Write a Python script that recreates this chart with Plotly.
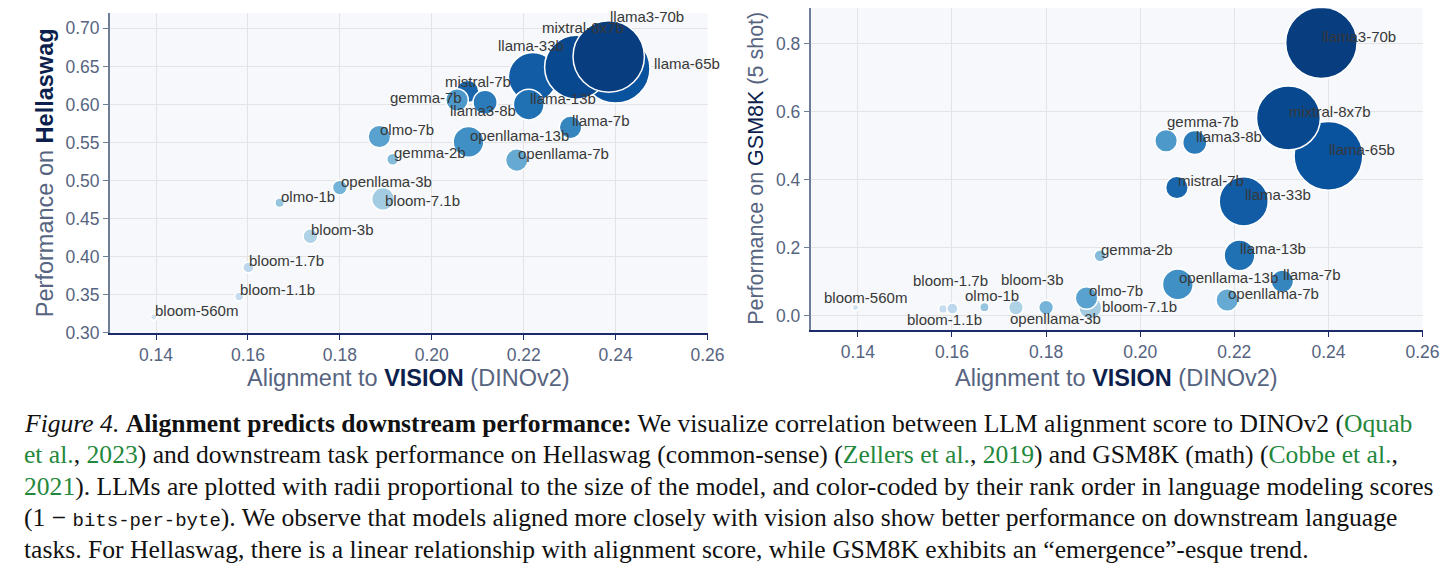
import plotly.graph_objects as go

# models in drawing order (later ones sit on top)
MODELS = [
    "bloom-560m", "bloom-1.1b", "bloom-1.7b", "bloom-3b", "bloom-7.1b",
    "olmo-1b", "olmo-7b", "openllama-3b", "openllama-7b", "openllama-13b",
    "gemma-2b", "mistral-7b", "gemma-7b", "llama3-8b", "llama-7b",
    "llama-33b", "llama-13b", "llama-65b", "mixtral-8x7b", "llama3-70b",
]
PARAMS_B = [0.56, 1.1, 1.7, 3, 7.1, 1.2, 7, 3, 7, 13, 2, 7, 7, 8, 7, 33, 13, 65, 56, 70]
ALIGNMENT = [
    0.1395, 0.1581, 0.1601, 0.1736, 0.1894,
    0.1669, 0.1886, 0.1800, 0.2185, 0.2080,
    0.1915, 0.2078, 0.2055, 0.2116, 0.2302,
    0.2220, 0.2211, 0.2400, 0.2315, 0.2385,
]
HELLASWAG = [
    0.321, 0.348, 0.386, 0.427, 0.476,
    0.471, 0.558, 0.491, 0.527, 0.551,
    0.528, 0.617, 0.606, 0.603, 0.570,
    0.636, 0.600, 0.647, 0.649, 0.663,
]
GSM8K = [
    0.024, 0.020, 0.021, 0.024, 0.023,
    0.025, 0.052, 0.024, 0.046, 0.092,
    0.176, 0.377, 0.514, 0.509, 0.101,
    0.336, 0.177, 0.470, 0.581, 0.802,
]
# rank in language modeling score (1 = worst, 20 = best)
LM_RANK = [1, 2, 3, 4, 5, 6, 10, 8, 9, 12, 7, 16, 11, 14, 13, 17, 15, 18, 19, 20]

X_TICKS = [0.14, 0.16, 0.18, 0.20, 0.22, 0.24, 0.26]
HELLA_TICKS = [0.30, 0.35, 0.40, 0.45, 0.50, 0.55, 0.60, 0.65, 0.70]
GSM_TICKS = [0.0, 0.2, 0.4, 0.6, 0.8]

# label nudges in px (dx right, dy down), like adjustText moved them
LEFT_SHIFT = {
    "mixtral-8x7b": (-36, -33), "llama3-70b": (0, -34), "llama-33b": (-36, -25),
    "llama-65b": (37, 1), "mistral-7b": (-24, -4), "gemma-7b": (-68, 4),
    "llama3-8b": (-36, 15), "bloom-7.1b": (1, 8),
}
RIGHT_SHIFT = {
    "bloom-1.7b": (-40, -22), "bloom-3b": (-16, -22), "olmo-1b": (-20, -5),
    "bloom-560m": (-32, -4), "bloom-1.1b": (-37, 17), "openllama-3b": (-37, 17),
    "bloom-7.1b": (11, 5), "gemma-7b": (0, -13), "olmo-7b": (1, -1),
}

W, H = 1456, 571
# the page keeps an 8px body margin and the shot comes out slightly scaled,
# so positions read off the reference are mapped back to figure pixels
BODY, SX, SY = 8, 0.9887, 0.983
BLUES = ["#f7fbff", "#deebf7", "#c6dbef", "#9ecae1", "#6baed6",
         "#4292c6", "#2171b5", "#08519c", "#08306b"]
SLATE = "#56647f"
NAVY = "#0d1f4d"
AXIS_NAVY = "#1b2a6b"
GRID = "#e4e4e4"
FONT = "Liberation Sans"


def px_x(p):
    return min(1, max(0, (p / SX - BODY) / W))


def px_y(p):
    return min(1, max(0, 1 - (p / SY - BODY) / H))


def main():
    colorscale = [[i / 8, c] for i, c in enumerate(BLUES)]
    marker = dict(
        size=PARAMS_B, sizemode="area", sizeref=70 / (2 * 35.7 ** 2),
        color=LM_RANK, colorscale=colorscale, cmin=-4.07, cmax=21.27,
        line=dict(color="white", width=1.5), opacity=1,
    )

    fig = go.Figure()
    fig.add_trace(go.Scatter(x=ALIGNMENT, y=HELLASWAG, mode="markers", marker=marker,
                             xaxis="x", yaxis="y", hoverinfo="text", text=MODELS))
    fig.add_trace(go.Scatter(x=ALIGNMENT, y=GSM8K, mode="markers", marker=marker,
                             xaxis="x2", yaxis="y2", hoverinfo="text", text=MODELS))

    annotations = []
    for name, a, h, g in zip(MODELS, ALIGNMENT, HELLASWAG, GSM8K):
        for xr, yr, yv, shifts in (("x", "y", h, LEFT_SHIFT), ("x2", "y2", g, RIGHT_SHIFT)):
            dx, dy = shifts.get(name, (0, 0))
            annotations.append(dict(
                x=a, y=yv, xref=xr, yref=yr, text=name, showarrow=False,
                xanchor="left", yanchor="bottom", xshift=dx - 1, yshift=-4 - dy,
                font=dict(family=FONT, size=15, color="#383838"),
            ))

    hl_bold = f"<span style='color:{NAVY}'><b>%s</b></span>"
    hl = f"<span style='color:{NAVY}'>%s</span>"
    vision_title = "Alignment to " + hl_bold % "VISION" + " (DINOv2)"
    for text, x, y, angle, size in (
        (vision_title, (110 + 707.7) / 2, 378, 0, 23.5),
        (vision_title, (811 + 1423) / 2, 378, 0, 23.5),
        ("Performance on " + hl_bold % "Hellaswag", 45, 173, -90, 23.5),
        ("Performance on " + hl % "GSM8K" + " (5 shot)", 756, 168, -90, 21.5),
    ):
        annotations.append(dict(
            text=text, xref="paper", yref="paper", x=px_x(x), y=px_y(y),
            xanchor="center", yanchor="middle", textangle=angle, showarrow=False,
            font=dict(family=FONT, size=size, color=SLATE),
        ))

    green = "<span style='color:#24883c'>%s</span>"
    mono = "<span style='font-family:Liberation Mono;font-size:19px'>%s</span>"
    caption = [
        "<i>Figure 4.</i> <b>Alignment predicts downstream performance:</b> We visualize correlation "
        "between LLM alignment score to DINOv2 (" + green % "Oquab",
        green % "et al." + ", " + green % "2023" + ") and downstream task performance on Hellaswag "
        "(common-sense) (" + green % "Zellers et al." + ", " + green % "2019" + ") and GSM8K (math) ("
        + green % "Cobbe et al." + ",",
        green % "2021" + "). LLMs are plotted with radii proportional to the size of the model, "
        "and color-coded by their rank order in language modeling scores",
        "(1 \u2212 " + mono % "bits-per-byte" + "). We observe that models aligned more closely "
        "with vision also show better performance on downstream language",
        "tasks. For Hellaswag, there is a linear relationship with alignment score, while GSM8K "
        "exhibits an \u201cemergence\u201d-esque trend.",
    ]
    for i, line in enumerate(caption):
        annotations.append(dict(
            text=line, xref="paper", yref="paper", x=px_x(22), y=px_y(423.5 + 31.5 * i),
            xanchor="left", yanchor="middle", showarrow=False, align="left",
            font=dict(family="Liberation Serif", size=25.6, color="#111111"),
        ))

    common_x = dict(
        range=[0.13, 0.26], tickvals=X_TICKS, tickformat=".2f",
        showgrid=True, gridcolor=GRID, gridwidth=1.3, zeroline=False,
        showline=True, linecolor=AXIS_NAVY, linewidth=2,
        ticks="outside", ticklen=5, tickcolor=AXIS_NAVY,
        tickfont=dict(family=FONT, size=17.5, color=SLATE),
    )
    common_y = dict(
        showgrid=True, gridcolor=GRID, gridwidth=1.3, zeroline=False,
        showline=True, linecolor="#6e7d98", linewidth=2,
        ticks="outside", ticklen=5, tickcolor="#6e7d98",
        tickfont=dict(family=FONT, size=17.5, color=SLATE),
    )

    fig.update_layout(
        width=W, height=H, margin=dict(l=0, r=0, t=0, b=0),
        paper_bgcolor="white", plot_bgcolor="#f6f8fb", showlegend=False,
        xaxis=dict(common_x, domain=[px_x(110), px_x(707.7)], anchor="y"),
        yaxis=dict(common_y, domain=[px_y(333), px_y(13)], anchor="x",
                   range=[0.30, 0.72], tickvals=HELLA_TICKS, tickformat=".2f"),
        xaxis2=dict(common_x, domain=[px_x(811), px_x(1423)], anchor="y2"),
        yaxis2=dict(common_y, domain=[px_y(330), px_y(8)], anchor="x2",
                    range=[-0.042, 0.904], tickvals=GSM_TICKS, tickformat=".1f"),
        annotations=annotations,
    )

    fig.write_html("out.html")


if __name__ == "__main__":
    main()
